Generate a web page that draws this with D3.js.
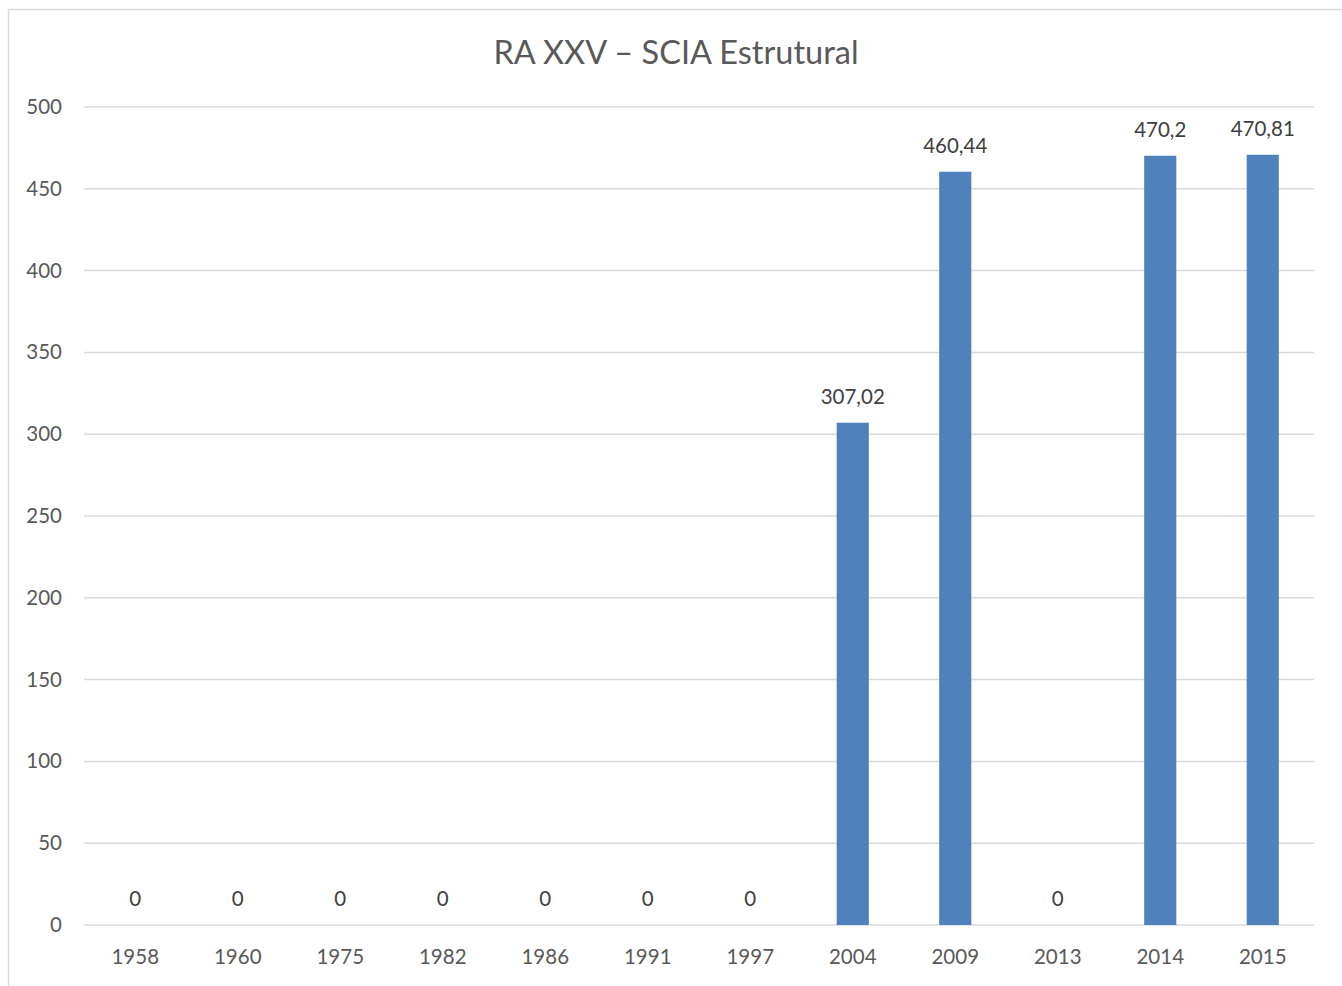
<!DOCTYPE html>
<html>
<head>
    <meta charset="utf-8">
    <script src="https://cdn.jsdelivr.net/npm/d3@7/dist/d3.min.js"></script>
    <style>
        body { margin: 0; background: #fff; }
        text { font-family: Lato, "Open Sans", sans-serif; }
    </style>
</head>
<body>
    <div id="viz"></div>
    <script type="text/javascript">

    var years = ["1958", "1960", "1975", "1982", "1986", "1991", "1997", "2004", "2009", "2013", "2014", "2015"];
    var values = [0, 0, 0, 0, 0, 0, 0, 307.02, 460.44, 0, 470.2, 470.81];
    var yTicks = [0, 50, 100, 150, 200, 250, 300, 350, 400, 450, 500];
    var title = "RA XXV – SCIA Estrutural";

    var width = 1342, height = 986;
    var plotLeft = 84, plotRight = 1314, plotTop = 107, plotBottom = 925;

    var svg = d3.select("#viz")
        .append("svg")
        .attr("width", width)
        .attr("height", height);

    // chart frame
    svg.append("rect")
        .attr("x", 8.5).attr("y", 9.5)
        .attr("width", 1345).attr("height", 990)
        .style("fill", "#fff")
        .style("stroke", "#d9d9d9")
        .style("stroke-width", 1.5);

    var x = d3.scaleBand().domain(years).range([plotLeft, plotRight]).padding(0);
    var y = d3.scaleLinear().domain([0, 500]).range([plotBottom, plotTop]);
    var barW = x.bandwidth() / 3.19;

    // gridlines
    svg.selectAll("line.grid")
        .data(yTicks)
        .enter().append("line")
        .attr("class", "grid")
        .attr("x1", plotLeft).attr("x2", plotRight)
        .attr("y1", function(d){ return y(d); })
        .attr("y2", function(d){ return y(d); })
        .style("stroke", "#d9d9d9")
        .style("stroke-width", 1.5);

    // y labels
    svg.selectAll("text.ylab")
        .data(yTicks)
        .enter().append("text")
        .attr("class", "ylab")
        .attr("x", 62)
        .attr("y", function(d){ return y(d) + 7; })
        .attr("text-anchor", "end")
        .style("font-size", "20.5px")
        .style("fill", "#595959")
        .text(function(d){ return d; });

    // bars
    svg.selectAll("rect.bar")
        .data(values)
        .enter().append("rect")
        .attr("class", "bar")
        .attr("x", function(d, i){ return x(years[i]) + x.bandwidth() / 2 - barW / 2; })
        .attr("y", function(d){ return y(d); })
        .attr("width", barW)
        .attr("height", function(d){ return plotBottom - y(d); })
        .style("fill", "#4f81bd");

    // value labels
    svg.selectAll("text.val")
        .data(values)
        .enter().append("text")
        .attr("class", "val")
        .attr("x", function(d, i){ return x(years[i]) + x.bandwidth() / 2; })
        .attr("y", function(d){ return y(d) - 19; })
        .attr("text-anchor", "middle")
        .style("font-size", "20.5px")
        .style("fill", "#404040")
        .text(function(d){ return String(d).replace(".", ","); });

    // x labels
    svg.selectAll("text.xlab")
        .data(years)
        .enter().append("text")
        .attr("class", "xlab")
        .attr("x", function(d){ return x(d) + x.bandwidth() / 2; })
        .attr("y", 964)
        .attr("text-anchor", "middle")
        .style("font-size", "20.5px")
        .style("fill", "#595959")
        .text(function(d){ return d; });

    svg.append("text")
        .attr("x", 676)
        .attr("y", 64)
        .attr("text-anchor", "middle")
        .style("font-size", "32.5px")
        .style("fill", "#595959")
        .text(title);

    </script>
</body>
</html>
